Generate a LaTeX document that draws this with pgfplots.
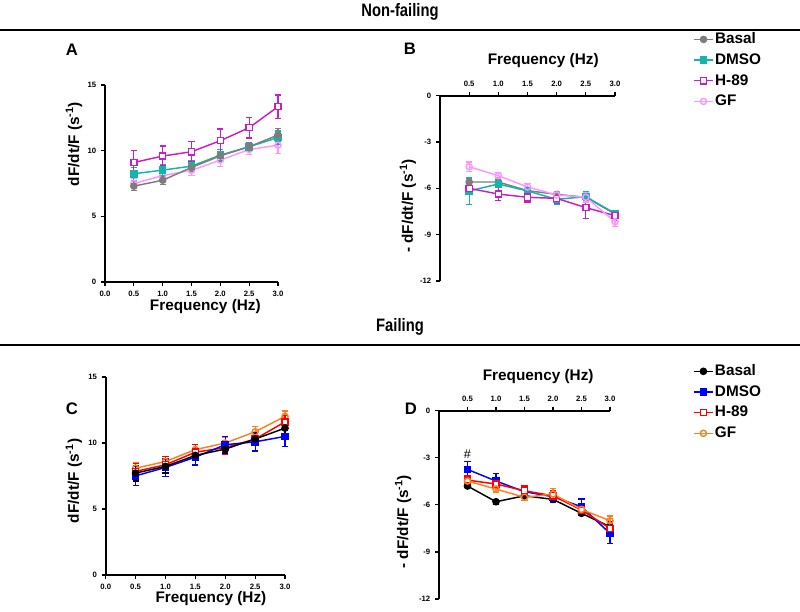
\documentclass[border=0pt]{standalone}
\usepackage{fontspec}
\setmainfont{Liberation Sans}
\usepackage{graphicx}
\usepackage{pgfplots}
\pgfplotsset{compat=1.18}
\definecolor{nfgray}{RGB}{125,125,125}
\definecolor{nfteal}{RGB}{20,180,170}
\definecolor{nfmag}{RGB}{200,30,200}
\definecolor{nfpink}{RGB}{255,150,255}
\definecolor{fblue}{RGB}{0,0,255}
\definecolor{fred}{RGB}{255,0,0}
\definecolor{forange}{RGB}{255,128,32}
\pgfplotsset{
  gp/.style={
    scale only axis, clip=false,
    axis line style={-, line width=1.3pt},
    tick style={black, line width=0.9pt},
    major tick length=3pt, tick align=outside,
    tick label style={font=\fontsize{5.8}{6.5}\selectfont\bfseries},
    /pgf/number format/assume math mode=true,
    label style={font=\fontsize{11.5}{13}\selectfont\bfseries},
    every axis plot/.append style={line width=1.1pt, mark size=2.3pt},
    error bars/y dir=both, error bars/y explicit,
    error bars/error bar style={line width=0.9pt},
    error bars/error mark options={rotate=90, mark size=2.3pt, line width=0.9pt},
    legend cell align=left,
    legend image code/.code={\draw[mark repeat=2,mark phase=2] plot coordinates {(0cm,0cm) (0.25cm,0cm) (0.5cm,0cm)};},
    legend style={draw=none, fill=none, inner sep=0pt, row sep=3pt,
      font=\fontsize{11.5}{13}\selectfont\bfseries,
      nodes={inner sep=1pt, text height=8.5pt, text depth=2pt}},
  },
  pos/.style={gp, axis x line*=bottom, axis y line*=left,
    xmin=0, xmax=3, ymin=0, ymax=15,
    xtick={0,0.5,1,1.5,2,2.5,3}, xticklabels={0.0,0.5,1.0,1.5,2.0,2.5,3.0},
    ytick={0,5,10,15}, yticklabels={0,5,10,15}},
  neg/.style={gp, axis x line*=top, axis y line*=left,
    xmin=0, xmax=3, ymin=-12, ymax=0,
    xtick={0.5,1,1.5,2,2.5,3}, xticklabels={0.5,1.0,1.5,2.0,2.5,3.0},
    ytick={-12,-9,-6,-3,0}, yticklabels={-12,-9,-6,-3,0}},
}
\begin{document}
\begin{tikzpicture}[x=0.75pt,y=-0.75pt]
\path[use as bounding box] (0,0) rectangle (800,611);
\node[font=\fontsize{13.5}{15}\selectfont\bfseries] at (400,12) {\scalebox{0.82}[1]{Non-failing}};
\draw[line width=1.5pt] (0,30) -- (800,30);
\node[font=\fontsize{13.5}{15}\selectfont\bfseries] at (400,327) {\scalebox{0.82}[1]{Failing}};
\draw[line width=1.5pt] (0,345) -- (800,345);
\node[font=\fontsize{12.5}{14}\selectfont\bfseries] at (72,50) {A};
\node[font=\fontsize{12.5}{14}\selectfont\bfseries] at (410,49) {B};
\node[font=\fontsize{12.5}{14}\selectfont\bfseries] at (72,409) {C};
\node[font=\fontsize{12.5}{14}\selectfont\bfseries] at (411,409) {D};

% ---------- A ----------
\begin{axis}[pos, at={(78.75pt,-211.5pt)}, anchor=south west,
  width=129.75pt, height=147.75pt,
  xlabel={Frequency (Hz)}, ylabel={dF/dt/F (s\textsuperscript{-1})},
  xlabel style={at={(axis description cs:0.58,-0.127)}, anchor=center},
  ylabel style={at={(axis description cs:-0.179,0.70)}, anchor=center}]
\addplot[nfpink, mark=o, mark options={fill=white}] coordinates {
 (0.5,7.50) +- (0,0.40) (1.0,8.10) +- (0,0.50) (1.5,8.50) +- (0,0.40)
 (2.0,9.28) +- (0,0.50) (2.5,10.09) +- (0,0.40) (3.0,10.42) +- (0,0.65)};
\addplot[nfteal, mark=square*] coordinates {
 (0.5,8.24) +- (0,0.50) (1.0,8.52) +- (0,0.40) (1.5,8.82) +- (0,0.40)
 (2.0,9.66) +- (0,0.45) (2.5,10.30) +- (0,0.30) (3.0,11.00) +- (0,0.50)};
\addplot[nfgray, mark=*] coordinates {
 (0.5,7.30) +- (0,0.35) (1.0,7.75) +- (0,0.30) (1.5,8.72) +- (0,0.30)
 (2.0,9.61) +- (0,0.35) (2.5,10.30) +- (0,0.35) (3.0,11.19) +- (0,0.50)};
\addplot[nfmag, mark=square*, mark options={fill=white}] coordinates {
 (0.5,9.10) +- (0,0.94) (1.0,9.59) +- (0,0.76) (1.5,9.92) +- (0,0.76)
 (2.0,10.76) +- (0,0.89) (2.5,11.75) +- (0,0.78) (3.0,13.35) +- (0,0.89)};
\end{axis}

% ---------- B ----------
\begin{axis}[neg, at={(330pt,-210.75pt)}, anchor=south west,
  width=131.25pt, height=139pt,
  xlabel={Frequency (Hz)}, ylabel={- dF/dt/F (s\textsuperscript{-1})},
  xlabel style={at={(axis description cs:0.59,1.19)}, anchor=center},
  ylabel style={at={(axis description cs:-0.183,0.405)}, anchor=center},
  legend style={at={(axis description cs:1.446,1.35)}, anchor=north west}]
\addplot[nfgray, mark=*] coordinates {
 (0.5,-5.59) +- (0,0.25) (1.0,-5.59) +- (0,0.20) (1.5,-6.15) +- (0,0.20)
 (2.0,-6.39) +- (0,0.20) (2.5,-6.58) +- (0,0.20) (3.0,-7.66) +- (0,0.20)};
\addplot[nfteal, mark=square*] coordinates {
 (0.5,-6.17) +- (0,0.87) (1.0,-5.72) +- (0,0.40) (1.5,-6.17) +- (0,0.20)
 (2.0,-6.71) +- (0,0.35) (2.5,-6.54) +- (0,0.35) (3.0,-7.62) +- (0,0.20)};
\addplot[nfmag, mark=square*, mark options={fill=white}] coordinates {
 (0.5,-6.00) +- (0,0.40) (1.0,-6.37) +- (0,0.40) (1.5,-6.58) +- (0,0.30)
 (2.0,-6.65) +- (0,0.30) (2.5,-7.25) +- (0,0.70) (3.0,-7.77) +- (0,0.30)};
\addplot[nfpink, mark=o, mark options={fill=white}] coordinates {
 (0.5,-4.60) +- (0,0.30) (1.0,-5.18) +- (0,0.20) (1.5,-5.91) +- (0,0.20)
 (2.0,-6.43) +- (0,0.20) (2.5,-6.58) +- (0,0.30) (3.0,-8.16) +- (0,0.30)};
\legend{Basal,DMSO,H-89,GF}
\end{axis}

% ---------- C ----------
\begin{axis}[pos, at={(79.275pt,-431.25pt)}, anchor=south west,
  width=134.5pt, height=148.5pt,
  xlabel={Frequency (Hz)}, ylabel={dF/dt/F (s\textsuperscript{-1})},
  xlabel style={at={(axis description cs:0.587,-0.121)}, anchor=center},
  ylabel style={at={(axis description cs:-0.177,0.475)}, anchor=center}]
\addplot[forange, mark=o, mark options={fill=white}] coordinates {
 (0.5,8.09) +- (0,0.40) (1.0,8.60) +- (0,0.40) (1.5,9.50) +- (0,0.40)
 (2.0,10.00) +- (0,0.40) (2.5,10.85) +- (0,0.40) (3.0,12.02) +- (0,0.40)};
\addplot[fred, mark=square*, mark options={fill=white}] coordinates {
 (0.5,7.85) +- (0,0.60) (1.0,8.35) +- (0,0.60) (1.5,9.30) +- (0,0.60)
 (2.0,9.65) +- (0,0.50) (2.5,10.30) +- (0,0.50) (3.0,11.60) +- (0,0.50)};
\addplot[fblue, mark=square*] coordinates {
 (0.5,7.51) +- (0,0.70) (1.0,8.15) +- (0,0.70) (1.5,8.93) +- (0,0.60)
 (2.0,9.87) +- (0,0.60) (2.5,10.09) +- (0,0.70) (3.0,10.50) +- (0,0.75)};
\addplot[black, mark=*] coordinates {
 (0.5,7.72) +- (0,0.60) (1.0,8.23) +- (0,0.50) (1.5,9.06) +- (0,0.40)
 (2.0,9.54) +- (0,0.35) (2.5,10.30) +- (0,0.40) (3.0,11.13) +- (0,0.50)};
\end{axis}

% ---------- D ----------
\begin{axis}[neg, at={(329.25pt,-449.25pt)}, anchor=south west,
  width=128.25pt, height=141.2pt,
  xlabel={Frequency (Hz)}, ylabel={- dF/dt/F (s\textsuperscript{-1})},
  xlabel style={at={(axis description cs:0.58,1.18)}, anchor=center},
  ylabel style={at={(axis description cs:-0.21,0.41)}, anchor=center},
  legend style={at={(axis description cs:1.485,1.255)}, anchor=north west}]
\addplot[black, mark=*] coordinates {
 (0.5,-4.80) +- (0,0.10) (1.0,-5.80) +- (0,0.15) (1.5,-5.42) +- (0,0.15)
 (2.0,-5.65) +- (0,0.15) (2.5,-6.54) +- (0,0.15) (3.0,-7.39) +- (0,0.30)};
\addplot[fblue, mark=square*] coordinates {
 (0.5,-3.74) +- (0,0.50) (1.0,-4.48) +- (0,0.50) (1.5,-5.16) +- (0,0.35)
 (2.0,-5.48) +- (0,0.35) (2.5,-6.12) +- (0,0.50) (3.0,-7.82) +- (0,0.64)};
\addplot[fred, mark=square*, mark options={fill=white}] coordinates {
 (0.5,-4.42) +- (0,0.30) (1.0,-4.67) +- (0,0.30) (1.5,-5.10) +- (0,0.30)
 (2.0,-5.42) +- (0,0.30) (2.5,-6.33) +- (0,0.30) (3.0,-7.50) +- (0,0.30)};
\addplot[forange, mark=o, mark options={fill=white}] coordinates {
 (0.5,-4.48) +- (0,0.20) (1.0,-4.99) +- (0,0.20) (1.5,-5.52) +- (0,0.20)
 (2.0,-5.31) +- (0,0.35) (2.5,-6.29) +- (0,0.30) (3.0,-7.01) +- (0,0.30)};
\legend{Basal,DMSO,H-89,GF}
\node[font=\fontsize{9.5}{10}\selectfont] at (axis cs:0.5,-2.75) {\#};
\end{axis}
\end{tikzpicture}
\end{document}
